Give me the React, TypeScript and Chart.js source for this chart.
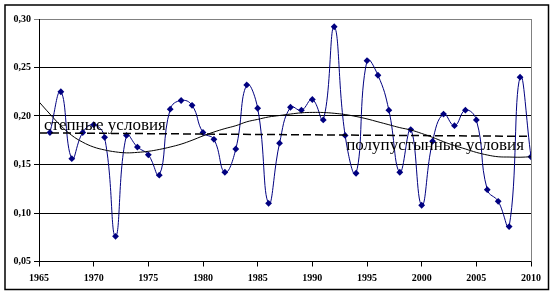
import React, { useEffect, useRef } from "react";
import { Chart, registerables } from "chart.js";

Chart.register(...registerables);

const years: number[] = [
  1966, 1967, 1968, 1969, 1970, 1971, 1972, 1973, 1974, 1975,
  1976, 1977, 1978, 1979, 1980, 1981, 1982, 1983, 1984, 1985,
  1986, 1987, 1988, 1989, 1990, 1991, 1992, 1993, 1994, 1995,
  1996, 1997, 1998, 1999, 2000, 2001, 2002, 2003, 2004, 2005,
  2006, 2007, 2008, 2009, 2010,
];

const values: number[] = [
  0.183, 0.225, 0.156, 0.183, 0.191, 0.178, 0.076, 0.180, 0.168, 0.160,
  0.139, 0.207, 0.216, 0.211, 0.183, 0.176, 0.142, 0.166, 0.232, 0.208,
  0.110, 0.172, 0.209, 0.206, 0.217, 0.196, 0.292, 0.180, 0.141, 0.257,
  0.242, 0.206, 0.142, 0.186, 0.108, 0.174, 0.202, 0.190, 0.206, 0.196,
  0.124, 0.112, 0.086, 0.240, 0.158,
];

const trendYears: number[] = [
  1965, 1966, 1967, 1968, 1969, 1970, 1971, 1972, 1973, 1974,
  1975, 1976, 1977, 1978, 1979, 1980, 1981, 1982, 1983, 1984,
  1985, 1986, 1987, 1988, 1989, 1990, 1991, 1992, 1993, 1994,
  1995, 1996, 1997, 1998, 1999, 2000, 2001, 2002, 2003, 2004,
  2005, 2006, 2007, 2008, 2009, 2010,
];

const polyTrend: number[] = [
  0.2146, 0.202, 0.190, 0.180, 0.173, 0.168, 0.165, 0.163, 0.162, 0.1625,
  0.1636, 0.1655, 0.168, 0.171, 0.175, 0.1795, 0.1835, 0.187, 0.190, 0.194,
  0.1965, 0.199, 0.2005, 0.202, 0.2033, 0.2037, 0.2036, 0.2028, 0.2015, 0.1995,
  0.197, 0.194, 0.191, 0.188, 0.1856, 0.182, 0.178, 0.1735, 0.1695, 0.166,
  0.1625, 0.1598, 0.158, 0.1577, 0.1575, 0.158,
];

const linearTrendYears: number[] = [1965, 2010];
const linearTrend: number[] = [0.1826, 0.179];

const xTicks: number[] = [1965, 1970, 1975, 1980, 1985, 1990, 1995, 2000, 2005, 2010];
const yTicks: number[] = [0.05, 0.1, 0.15, 0.2, 0.25, 0.3];

const labelSteppe = { text: "степные условия", x: 1965.45, y: 0.186 };
const labelSemiDesert = { text: "полупустынные условия", x: 1993.1, y: 0.1648 };

const SERIF = '"Liberation Serif", "Times New Roman", serif';

const decor = {
  id: "decor",
  beforeDraw(chart: any) {
    const { ctx, width, height } = chart;
    ctx.save();
    ctx.fillStyle = "#ffffff";
    ctx.fillRect(0, 0, width, height);
    ctx.restore();
  },
  afterDatasetsDraw(chart: any) {
    const { ctx, chartArea, scales } = chart;
    const xs = scales.x;
    const ys = scales.y;
    ctx.save();
    ctx.strokeStyle = "#808080";
    ctx.lineWidth = 1;
    ctx.beginPath();
    ctx.moveTo(Math.round(chartArea.right) + 0.5, chartArea.top);
    ctx.lineTo(Math.round(chartArea.right) + 0.5, chartArea.bottom);
    ctx.stroke();
    ctx.fillStyle = "#000000";
    ctx.font = "17px " + SERIF;
    ctx.textBaseline = "alphabetic";
    ctx.textAlign = "left";
    for (const l of [labelSteppe, labelSemiDesert]) {
      ctx.fillText(l.text, xs.getPixelForValue(l.x), ys.getPixelForValue(l.y));
    }
    ctx.strokeStyle = "#000000";
    ctx.lineWidth = 1.5;
    ctx.strokeRect(5, 5, 543.5, 284.5);
    ctx.restore();
  },
};

export default function App() {
  const ref = useRef<HTMLCanvasElement | null>(null);
  useEffect(() => {
    if (!ref.current) return;
    const chart = new Chart(ref.current, {
      type: "line",
      data: {
        datasets: [
          {
            label: "series",
            data: years.map((y, i) => ({ x: y, y: values[i] })),
            borderColor: "#000080",
            backgroundColor: "#000080",
            borderWidth: 1,
            pointStyle: "rectRot",
            pointRadius: 3.4,
            pointBorderWidth: 0,
            tension: 0.45,
            order: 2,
          },
          {
            label: "poly",
            data: trendYears.map((y, i) => ({ x: y, y: polyTrend[i] })),
            borderColor: "#000000",
            borderWidth: 1,
            pointRadius: 0,
            tension: 0.4,
            order: 1,
          },
          {
            label: "linear",
            data: linearTrendYears.map((y, i) => ({ x: y, y: linearTrend[i] })),
            borderColor: "#000000",
            borderWidth: 1.5,
            borderDash: [8, 4],
            pointRadius: 0,
            order: 1,
          },
        ],
      },
      options: {
        responsive: false,
        animation: false,
        devicePixelRatio: 1,
        layout: { padding: { top: 19, right: 22, left: 0, bottom: 0 } },
        plugins: {
          legend: { display: false },
          tooltip: { enabled: false },
        },
        scales: {
          x: {
            type: "linear",
            min: 1965,
            max: 2010,
            afterFit: (s: any) => {
              s.height = 32.5;
            },
            afterBuildTicks: (s: any) => {
              s.ticks = xTicks.map((v) => ({ value: v }));
            },
            grid: {
              drawOnChartArea: false,
              drawTicks: true,
              tickLength: 5,
              color: "#000000",
            },
            border: { display: true, color: "#000000", width: 1 },
            ticks: {
              color: "#000000",
              padding: 6,
              maxRotation: 0,
              autoSkip: false,
              font: { family: SERIF, size: 10, weight: "bold" },
              callback: (v: any) => String(v),
            },
          },
          y: {
            type: "linear",
            min: 0.05,
            max: 0.3,
            afterFit: (s: any) => {
              s.width = 39;
            },
            afterBuildTicks: (s: any) => {
              s.ticks = yTicks.map((v) => ({ value: v }));
            },
            grid: {
              drawTicks: true,
              tickLength: 5,
              color: (c: any) =>
                c.tick && Math.abs(c.tick.value - 0.3) < 1e-6 ? "#808080" : "#000000",
            },
            border: { display: true, color: "#000000", width: 1 },
            ticks: {
              color: "#000000",
              padding: 3,
              autoSkip: false,
              font: { family: SERIF, size: 10, weight: "bold" },
              callback: (v: any) => Number(v).toFixed(2).replace(".", ","),
            },
          },
        },
      },
      plugins: [decor],
    });
    return () => chart.destroy();
  }, []);
  return (
    <div style={{ position: "absolute", left: 0, top: 0, width: 553, height: 294 }}>
      <canvas ref={ref} width={553} height={294} />
    </div>
  );
}
